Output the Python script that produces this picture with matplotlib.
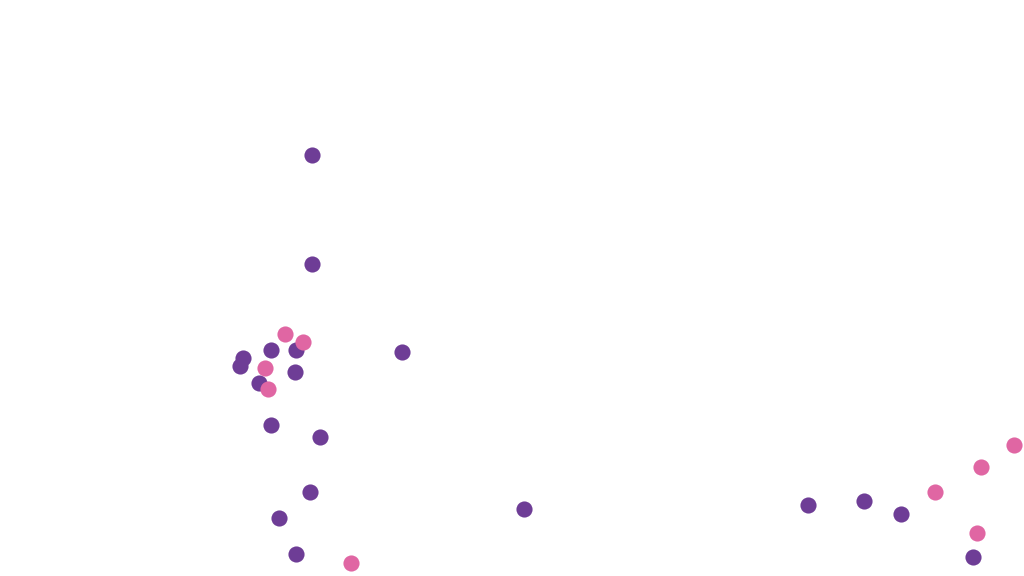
import matplotlib
matplotlib.use("Agg")
import matplotlib.pyplot as plt

# purple series
purple_x = [312, 312, 402, 243, 271, 296, 240, 295, 259, 271, 320, 310, 279, 296, 524, 808, 864, 901, 973]
purple_y = [155, 264, 352, 358, 350, 350, 366, 372, 383, 425, 437, 492, 518, 554, 509, 505, 501, 514, 557]

# pink series
pink_x = [285, 303, 265, 268, 351, 935, 981, 1014, 977]
pink_y = [334, 342, 368, 389, 563, 492, 467, 445, 533]

fig = plt.figure(figsize=(10.24, 5.76), dpi=100)
ax = fig.add_axes([0, 0, 1, 1])
ax.scatter(purple_x, purple_y, s=135, color="#6e3d96", linewidths=0, zorder=2)
ax.scatter(pink_x, pink_y, s=135, color="#e066a3", linewidths=0, zorder=3)
ax.set_xlim(0, 1024)
ax.set_ylim(576, 0)
ax.axis("off")
fig.savefig("out.png", dpi=100, facecolor="white")
